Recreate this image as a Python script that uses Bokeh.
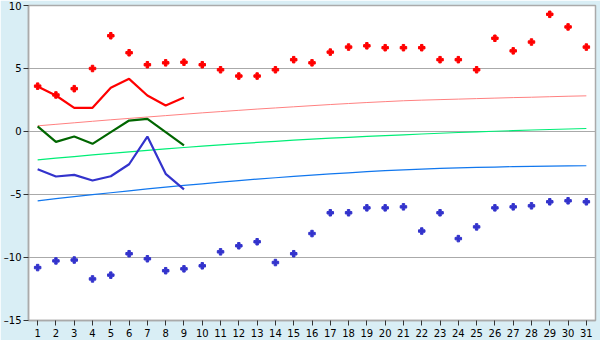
from bokeh.plotting import figure
from bokeh.models import Range1d, FixedTicker
from bokeh.embed import file_html
from bokeh.resources import INLINE

days = [str(d) for d in range(1, 32)]

rec_max = [3.6, 2.9, 3.4, 5.0, 7.6, 6.25, 5.3, 5.45, 5.5, 5.3, 4.9, 4.4, 4.4, 4.9, 5.7, 5.45,
           6.3, 6.7, 6.8, 6.65, 6.65, 6.65, 5.7, 5.7, 4.9, 7.4, 6.4, 7.1, 9.3, 8.3, 6.7]
rec_min = [-10.8, -10.27, -10.2, -11.7, -11.4, -9.7, -10.1, -11.05, -10.9, -10.66, -9.55, -9.07,
           -8.75, -10.4, -9.7, -8.1, -6.45, -6.45, -6.06, -6.06, -5.98, -7.9, -6.45, -8.5, -7.57,
           -6.06, -5.98, -5.9, -5.58, -5.5, -5.58]

cur_days = [str(d) for d in range(1, 10)]
cur_max = [3.57, 2.86, 1.88, 1.88, 3.47, 4.18, 2.86, 2.06, 2.7]
cur_mean = [0.4, -0.82, -0.4, -0.98, -0.05, 0.87, 1.0, -0.05, -1.11]
cur_min = [-3.0, -3.57, -3.44, -3.89, -3.55, -2.6, -0.4, -3.36, -4.6]

norm_max = [0.45, 0.57, 0.69, 0.81, 0.93, 1.04, 1.15, 1.26, 1.37, 1.48, 1.58, 1.68, 1.78, 1.87,
            1.96, 2.05, 2.14, 2.22, 2.30, 2.37, 2.44, 2.49, 2.53, 2.57, 2.61, 2.65, 2.69, 2.72,
            2.76, 2.80, 2.83]
norm_mean = [-2.25, -2.12, -1.99, -1.86, -1.74, -1.62, -1.50, -1.38, -1.27, -1.16, -1.06, -0.96,
             -0.87, -0.78, -0.69, -0.61, -0.53, -0.46, -0.39, -0.32, -0.26, -0.20, -0.14, -0.08,
             -0.03, 0.02, 0.07, 0.12, 0.16, 0.20, 0.24]
norm_min = [-5.5, -5.33, -5.17, -5.01, -4.86, -4.71, -4.56, -4.42, -4.28, -4.15, -4.02, -3.90,
            -3.78, -3.67, -3.56, -3.46, -3.37, -3.28, -3.19, -3.11, -3.04, -2.98, -2.93, -2.89,
            -2.85, -2.82, -2.79, -2.77, -2.75, -2.73, -2.72]

y_ticks = [-15, -10, -5, 0, 5, 10]
y_labels = ["\u201315", "\u201310", "\u20135", "0", "5", "10"]

p = figure(x_range=days, y_range=Range1d(-15, 10), width=600, height=340,
           output_backend="svg", toolbar_location=None,
           min_border_left=27, min_border_right=5, min_border_top=5, min_border_bottom=20)
p.x_range.range_padding = 0
p.border_fill_color = "#d9eef5"
p.background_fill_color = "white"
p.outline_line_color = "#aaaaaa"
p.outline_line_width = 1.5

p.xgrid.visible = False
p.ygrid.ticker = FixedTicker(ticks=y_ticks)
p.ygrid.grid_line_color = "#aaaaaa"

for ax in (p.xaxis[0], p.yaxis[0]):
    ax.axis_line_color = "#aaaaaa"
    ax.axis_line_width = 1.5
    ax.major_tick_line_color = "#333333"
    ax.major_tick_in = 0
    ax.minor_tick_line_color = None
    ax.major_label_text_font = "DejaVu Sans"
    ax.major_label_text_font_size = "10px"
    ax.major_label_text_color = "#000000"
p.xaxis.major_tick_out = 5
p.xaxis.major_label_standoff = 3
p.yaxis.major_tick_out = 5
p.yaxis.major_label_standoff = 2
p.yaxis.ticker = FixedTicker(ticks=y_ticks)
p.yaxis.major_label_overrides = dict(zip(y_ticks, y_labels))

p.line(days, norm_max, color="#ff8080", line_width=1)
p.line(days, norm_mean, color="#00ee77", line_width=1.2)
p.line(days, norm_min, color="#1177ee", line_width=1.2)

p.line(cur_days, cur_max, color="#ff0000", line_width=2.2)
p.line(cur_days, cur_mean, color="#006600", line_width=2.2)
p.line(cur_days, cur_min, color="#3333cc", line_width=2.2)

p.scatter(days, rec_max, marker="plus", size=6.5, color="#ff0000")
p.scatter(days, rec_min, marker="plus", size=6.5, color="#3333cc")

open("out.html", "w").write(file_html(p, INLINE))
